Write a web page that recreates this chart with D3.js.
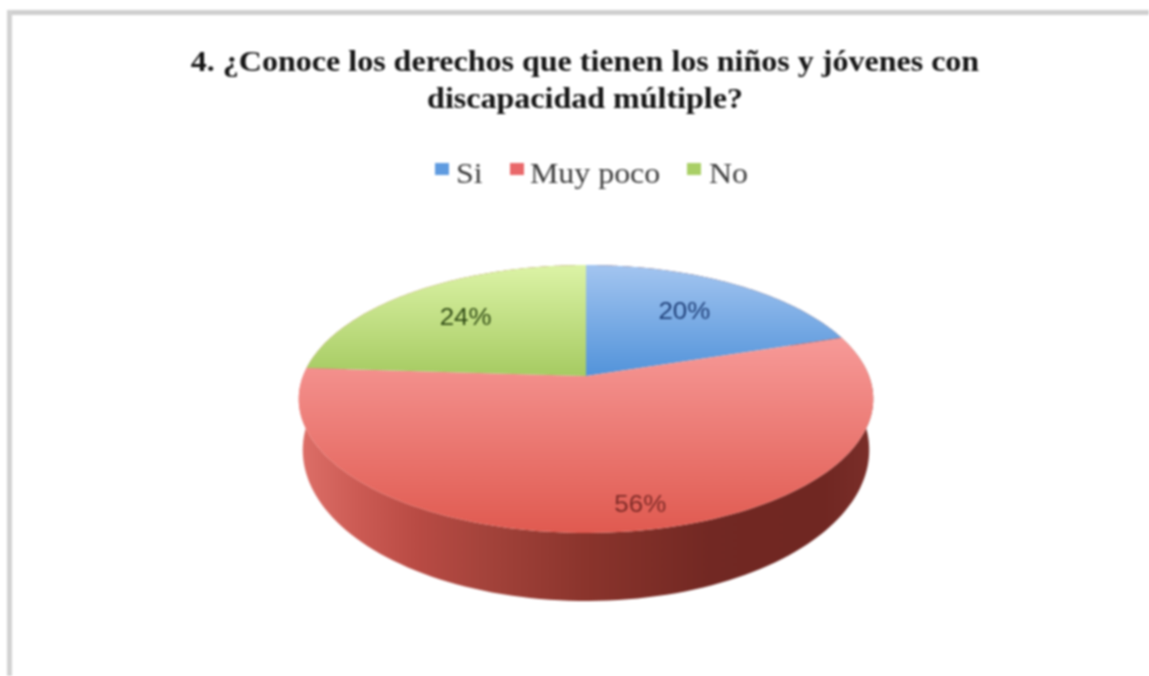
<!DOCTYPE html>
<html lang="es">

<head>
    <meta charset="UTF-8">
    <title>Pie Chart</title>
    <style>
        html, body {
            margin: 0;
            padding: 0;
            background: #fff;
            overflow: hidden;
        }

        #chart {
            display: block;
            filter: blur(0.8px);
        }

        .title {
            font-family: "Liberation Serif", serif;
            font-weight: bold;
            font-size: 30px;
            fill: #151515;
            text-anchor: middle;
        }

        .legend-label {
            font-family: "Liberation Serif", serif;
            font-size: 29px;
            fill: #3a3a3a;
        }

        .slice-label {
            font-family: "Liberation Sans", sans-serif;
            font-size: 24px;
            text-anchor: middle;
        }
    </style>
</head>

<body>
    <svg id="chart"></svg>

    <script src="https://d3js.org/d3.v7.min.js"></script>
    <script>
        // Data
        const titleLines = ["4. ¿Conoce los derechos que tienen los niños y jóvenes con", "discapacidad múltiple?"];
        const categories = ["Si", "Muy poco", "No"];
        const values = [20, 56, 24];

        // Colours: top of slice, bottom of slice, label, legend swatch
        const topLight = ["#a3c5f0", "#f79a98", "#dcf3a6"];
        const topDark = ["#5293da", "#e05a50", "#a6cb62"];
        const labelColors = ["#1f3f78", "#7d2a26", "#2f4a14"];
        const swatchColors = ["#5f9be0", "#e9686a", "#a9cf66"];

        const w = 1149;
        const h = 676;

        // The source image is stretched sideways, so the text is too
        const titleStretch = 1.068;
        const legendStretch = 1.1;
        const labelStretch = 1.08;

        // Pie geometry, with a little perspective so the centre sits above the ellipse middle
        const cx = 586;
        const cy = 376;
        const radiusX = 283;
        const radiusY = 130;
        const tilt = 0.1716;
        const rimMiddleY = 399;
        const wallMiddleY = 450;
        const bottomScaleX = 0.986;
        const bottomScaleY = 1.127;

        // Labels: radius within the slice and a small nudge
        const labelRadius = [0.68, 0.85, 0.68];
        const labelNudgeX = [-5, 19, 1];
        const labelBaseline = 8;

        const svg = d3.select("#chart")
            .attr("width", w)
            .attr("height", h);

        // Frame on the top and left of the picture
        svg.append("rect").attr("x", 7).attr("y", 10).attr("width", w - 7).attr("height", 5).attr("fill", "#cfcfcf");
        svg.append("rect").attr("x", 7).attr("y", 10).attr("width", 5).attr("height", h - 10).attr("fill", "#d2d2d2");

        // Title
        const titleY = d3.scaleOrdinal().domain(titleLines).range([71, 108]);
        svg.selectAll(".title")
            .data(titleLines)
            .enter()
            .append("text")
            .attr("class", "title")
            .attr("transform", d => "translate(585," + titleY(d) + ") scale(" + titleStretch + ",1)")
            .text(d => d);

        // Legend
        const swatchX = d3.scaleOrdinal().domain(categories).range([435, 510, 687]);
        const legendTextX = d3.scaleOrdinal().domain(categories).range([456, 530, 709]);
        svg.selectAll(".swatch")
            .data(categories)
            .enter()
            .append("rect")
            .attr("class", "swatch")
            .attr("x", d => swatchX(d))
            .attr("y", 163)
            .attr("width", 14)
            .attr("height", 12)
            .attr("fill", (d, i) => swatchColors[i]);
        svg.selectAll(".legend-label")
            .data(categories)
            .enter()
            .append("text")
            .attr("class", "legend-label")
            .attr("transform", d => "translate(" + legendTextX(d) + ",183) scale(" + legendStretch + ",1)")
            .text(d => d);

        // Angle on the unit circle -> screen
        const project = (angle, r = 1) => {
            const u = Math.sin(angle) * r;
            const v = -Math.cos(angle) * r;
            const den = 1 - tilt * v;
            return [cx + radiusX * u / den, cy + radiusY * v / den];
        };
        const projectBottom = angle => {
            const p = project(angle);
            return [cx + (p[0] - cx) * bottomScaleX, wallMiddleY + (p[1] - rimMiddleY) * bottomScaleY];
        };

        const arcs = d3.pie().sort(null)(values);
        const arcAngles = d => d3.range(0, 121).map(i => d.startAngle + (d.endAngle - d.startAngle) * i / 120);
        const line = d3.line();

        const defs = svg.append("defs");

        // Side wall: dark horizontal shading
        const wallGrad = defs.append("linearGradient")
            .attr("id", "wall")
            .attr("gradientUnits", "userSpaceOnUse")
            .attr("x1", cx - radiusX).attr("x2", cx + radiusX)
            .attr("y1", 0).attr("y2", 0);
        [[0, "#dc6e67"], [0.1, "#cb5a53"], [0.2, "#b94b44"], [0.32, "#a4433b"], [0.5, "#8a342c"], [0.72, "#722823"], [0.92, "#702722"], [1, "#7a2e29"]]
            .forEach(s => wallGrad.append("stop").attr("offset", s[0]).attr("stop-color", s[1]));

        // Top face gradients, one per slice
        arcs.forEach((d, i) => {
            const g = defs.append("linearGradient")
                .attr("id", "top" + i)
                .attr("x1", 0).attr("x2", 0)
                .attr("y1", 0).attr("y2", 1);
            g.append("stop").attr("offset", 0).attr("stop-color", topLight[i]);
            g.append("stop").attr("offset", 1).attr("stop-color", topDark[i]);
        });

        // Walls first, the top face then covers the back half
        svg.selectAll(".wall")
            .data(arcs)
            .enter()
            .append("path")
            .attr("class", "wall")
            .attr("fill", "url(#wall)")
            .attr("d", d => {
                const angles = arcAngles(d);
                return line(angles.map(a => project(a)).concat(angles.slice().reverse().map(projectBottom))) + "Z";
            });

        svg.selectAll(".slice")
            .data(arcs)
            .enter()
            .append("path")
            .attr("class", "slice")
            .attr("fill", (d, i) => "url(#top" + i + ")")
            .attr("d", d => line([[cx, cy]].concat(arcAngles(d).map(a => project(a)))) + "Z");

        // Percent labels
        const labelAt = (d, i) => {
            const p = project((d.startAngle + d.endAngle) / 2, labelRadius[i]);
            return "translate(" + (p[0] + labelNudgeX[i]) + "," + (p[1] + labelBaseline) + ") scale(" + labelStretch + ",1)";
        };
        svg.selectAll(".slice-label")
            .data(arcs)
            .enter()
            .append("text")
            .attr("class", "slice-label")
            .attr("transform", labelAt)
            .attr("fill", (d, i) => labelColors[i])
            .text(d => d.value + "%");
    </script>
</body>

</html>
